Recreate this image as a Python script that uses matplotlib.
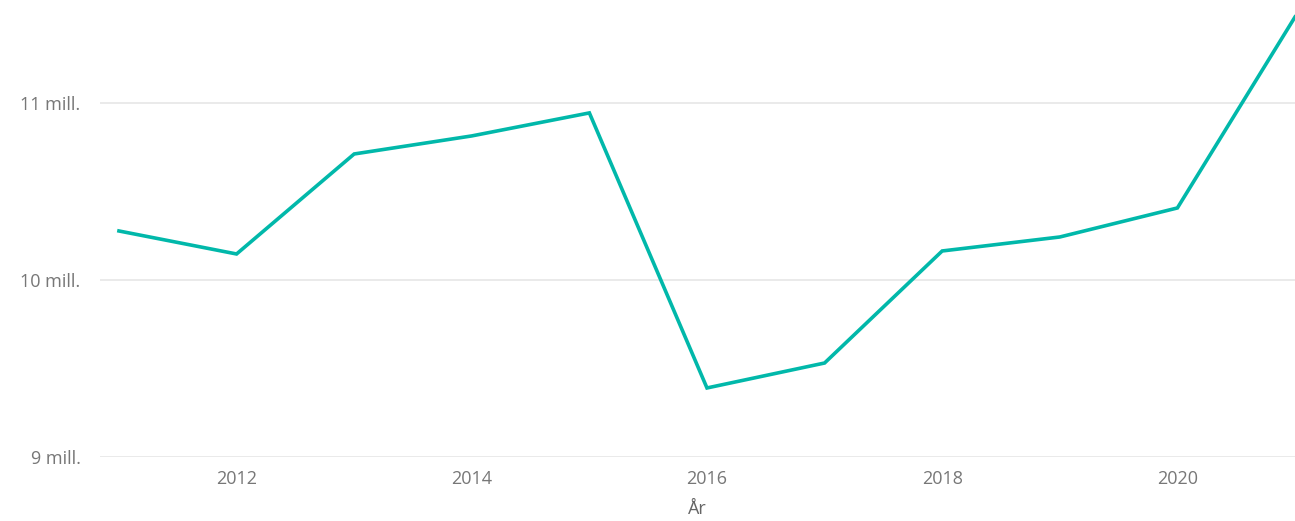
import matplotlib
matplotlib.use("Agg")
import matplotlib.pyplot as plt
from matplotlib.ticker import FuncFormatter

years = [2011, 2012, 2013, 2014, 2015, 2016, 2017, 2018, 2019, 2020, 2021]
values_mill = [10.277, 10.147, 10.712, 10.814, 10.944, 9.390, 9.531, 10.164, 10.243, 10.407, 11.486]
y_ticks = [9, 10, 11]
x_ticks = [2012, 2014, 2016, 2018, 2020]

plt.rcParams['font.family'] = ['Open Sans', 'DejaVu Sans']

fig = plt.figure(figsize=(12.95, 5.21), dpi=100)
ax = fig.add_axes([100/1295, 1 - 457/521, 1 - 100/1295, 457/521])

ax.plot(years, values_mill, color='#01B8AA', linewidth=2.6, solid_joinstyle='miter', clip_on=False, zorder=3)

ax.set_xlim(2011 - 19/117.9, 2021)
ax.set_ylim(9, 11 + 103/177)
ax.set_yticks(y_ticks)
ax.set_xticks(x_ticks)
ax.yaxis.set_major_formatter(FuncFormatter(lambda v, p: f"{int(v)} mill."))
ax.grid(axis='y', color='#E8E8E8', linewidth=1.3)
ax.set_axisbelow(True)
for s in ax.spines.values():
    s.set_visible(False)
ax.tick_params(axis='both', length=0, colors='#777777', labelsize=13)
ax.tick_params(axis='y', pad=14)
ax.tick_params(axis='x', pad=9)
ax.set_xlabel('År', color='#666666', fontsize=13, labelpad=9)

fig.savefig('out.png', dpi=100)
